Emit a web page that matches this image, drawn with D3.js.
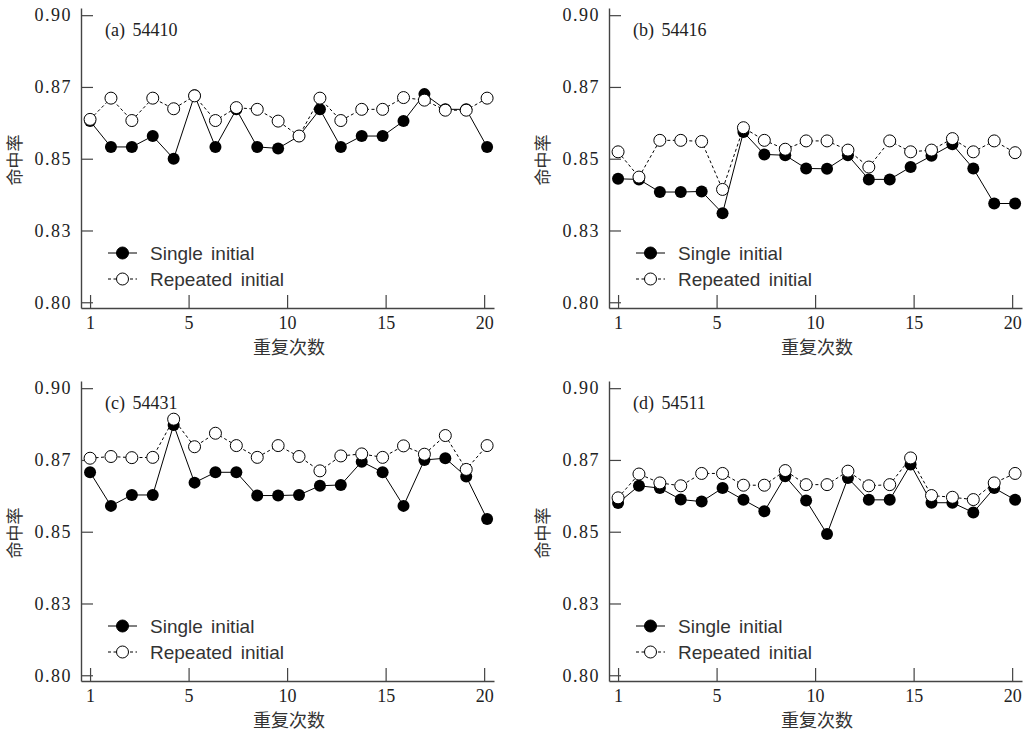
<!DOCTYPE html>
<html>
<head>
<meta charset="utf-8">
<script src="https://cdn.jsdelivr.net/npm/d3@7"></script>
<style>
  body { margin: 0; background: #fff; }
  svg { display: block; }
</style>
</head>
<body>
<svg width="1028" height="734"></svg>
<script>
var runs = [1, 2, 3, 4, 5, 6, 7, 8, 9, 10, 11, 12, 13, 14, 15, 16, 17, 18, 19, 20];
var panelLabels = ["(a) 54410", "(b) 54416", "(c) 54431", "(d) 54511"];
var seriesNames = ["Single initial", "Repeated initial"];

var yTickValues = [0.80, 0.825, 0.85, 0.875, 0.90];
var yTickLabels = ["0.80", "0.83", "0.85", "0.87", "0.90"];
var xTickValues = [0, 5, 10, 15, 20];
var xTickLabels = ["1", "5", "10", "15", "20"];
var yTitle = "命中率", xTitle = "重复次数";

var single54410 = [0.8631,0.8541,0.8541,0.8579,0.8500,0.8721,0.8541,0.8672,0.8541,0.8536,0.8579,0.8672,0.8541,0.8579,0.8579,0.8631,0.8725,0.8672,0.8672,0.8541];
var repeated54410 = [0.8637,0.8711,0.8633,0.8711,0.8674,0.8719,0.8633,0.8678,0.8672,0.8631,0.8579,0.8711,0.8633,0.8672,0.8672,0.8713,0.8704,0.8669,0.8669,0.8711];

var single54416 = [0.8430,0.8428,0.8384,0.8384,0.8386,0.8310,0.8593,0.8515,0.8512,0.8466,0.8465,0.8512,0.8428,0.8428,0.8471,0.8510,0.8550,0.8466,0.8344,0.8344];
var repeated54416 = [0.8524,0.8436,0.8564,0.8564,0.8560,0.8393,0.8608,0.8564,0.8533,0.8562,0.8562,0.8530,0.8471,0.8562,0.8524,0.8530,0.8570,0.8524,0.8562,0.8521];

var single54431 = [0.8707,0.8590,0.8628,0.8628,0.8872,0.8671,0.8707,0.8707,0.8626,0.8626,0.8628,0.8660,0.8663,0.8744,0.8707,0.8590,0.8750,0.8756,0.8692,0.8544];
var repeated54431 = [0.8756,0.8762,0.8758,0.8759,0.8892,0.8796,0.8843,0.8800,0.8759,0.8800,0.8762,0.8712,0.8764,0.8771,0.8759,0.8799,0.8770,0.8835,0.8717,0.8800];

var single54511 = [0.8600,0.8660,0.8652,0.8612,0.8605,0.8652,0.8611,0.8571,0.8693,0.8609,0.8492,0.8687,0.8611,0.8611,0.8734,0.8601,0.8601,0.8567,0.8652,0.8611];
var repeated54511 = [0.8618,0.8701,0.8670,0.8660,0.8703,0.8703,0.8662,0.8662,0.8713,0.8664,0.8664,0.8711,0.8660,0.8664,0.8757,0.8626,0.8620,0.8612,0.8670,0.8703];

var panels = [
    {label: panelLabels[0], single: single54410, repeated: repeated54410, left: 81, top: 8},
    {label: panelLabels[1], single: single54416, repeated: repeated54416, left: 609, top: 8},
    {label: panelLabels[2], single: single54431, repeated: repeated54431, left: 81, top: 381},
    {label: panelLabels[3], single: single54511, repeated: repeated54511, left: 609, top: 381}
];

var width = 413, height = 300;
var serif = "'Liberation Serif', 'Times New Roman', serif";
var cjk = "'Noto Sans CJK SC', sans-serif";
var sans = "'Liberation Sans', Arial, sans-serif";

// axis runs a bit past 0 and 20 on both sides
var scAxisX = d3.scaleLinear().domain([-0.46, 20.5]).range([0, width]);
// the 20 runs sit evenly from the "1" tick to just past "20"
var scX = d3.scalePoint().domain(runs).range([scAxisX(0), scAxisX(20.15)]);
var scY = d3.scaleLinear().domain([0.798, 0.9025]).range([height, 0]);

var svg = d3.select("svg");

panels.forEach(function(p) {
    var g = svg.append("g").attr("transform", "translate(" + p.left + "," + p.top + ")");

    var yAxis = d3.axisLeft(scY).tickValues(yTickValues)
        .tickSizeInner(-12).tickSizeOuter(0).tickPadding(9)
        .tickFormat((d, i) => yTickLabels[i]);
    var xAxis = d3.axisBottom(scAxisX).tickValues(xTickValues)
        .tickSizeInner(-13).tickSizeOuter(0).tickPadding(8)
        .tickFormat((d, i) => xTickLabels[i]);

    var gy = g.append("g").call(yAxis);
    var gx = g.append("g").attr("transform", "translate(0," + height + ")").call(xAxis);

    [gx, gy].forEach(function(a) {
        a.select(".domain").attr("stroke", "#444").attr("stroke-width", 1.4);
        a.selectAll(".tick line").attr("stroke", "#444").attr("stroke-width", 1.2);
        a.selectAll("text").attr("font-family", serif).attr("font-size", 18).attr("fill", "#222");
    });
    gy.selectAll("text").attr("letter-spacing", "1.5px");

    // axis titles
    g.append("text")
        .attr("transform", "translate(-60," + 152 + ") rotate(-90)")
        .attr("text-anchor", "middle")
        .attr("font-family", cjk).attr("font-size", 17).attr("fill", "#333")
        .text(yTitle);
    g.append("text")
        .attr("x", 208).attr("y", 346)
        .attr("text-anchor", "middle")
        .attr("font-family", cjk).attr("font-size", 18).attr("fill", "#333")
        .text(xTitle);

    g.append("text")
        .attr("x", 24).attr("y", 28)
        .attr("font-family", serif).attr("font-size", 18).attr("fill", "#222")
        .attr("word-spacing", "3px")
        .text(p.label);

    var lineMaker = d3.line()
        .x((d, i) => scX(runs[i]))
        .y(d => scY(d));

    // single initial: solid line, filled dots
    g.append("path")
        .attr("fill", "none").attr("stroke", "#000").attr("stroke-width", 1)
        .attr("d", lineMaker(p.single));
    g.append("g").selectAll("circle")
        .data(p.single).enter()
        .append("circle")
        .attr("r", 6).attr("fill", "#000")
        .attr("cx", (d, i) => scX(runs[i]))
        .attr("cy", d => scY(d));

    // repeated initial: dashed line, open dots
    g.append("path")
        .attr("fill", "none").attr("stroke", "#000").attr("stroke-width", 1)
        .attr("stroke-dasharray", "3,2.5")
        .attr("d", lineMaker(p.repeated));
    g.append("g").selectAll("circle")
        .data(p.repeated).enter()
        .append("circle")
        .attr("r", 6).attr("fill", "#fff").attr("stroke", "#000").attr("stroke-width", 1)
        .attr("cx", (d, i) => scX(runs[i]))
        .attr("cy", d => scY(d));

    // legend
    var lg = g.append("g").attr("transform", "translate(27,245)");
    seriesNames.forEach(function(name, i) {
        var row = lg.append("g").attr("transform", "translate(0," + (i * 26) + ")");
        row.append("line")
            .attr("x1", 0).attr("x2", 29).attr("y1", 0).attr("y2", 0)
            .attr("stroke", "#000").attr("stroke-width", 1)
            .attr("stroke-dasharray", i == 0 ? null : "3,2.5");
        row.append("circle")
            .attr("cx", 14.5).attr("cy", 0).attr("r", 6)
            .attr("fill", i == 0 ? "#000" : "#fff")
            .attr("stroke", "#000").attr("stroke-width", 1);
        row.append("text")
            .attr("x", 42).attr("y", 6.5)
            .attr("font-family", sans).attr("font-size", 19).attr("fill", "#333")
            .attr("word-spacing", "3px")
            .text(name);
    });
});
</script>
</body>
</html>
